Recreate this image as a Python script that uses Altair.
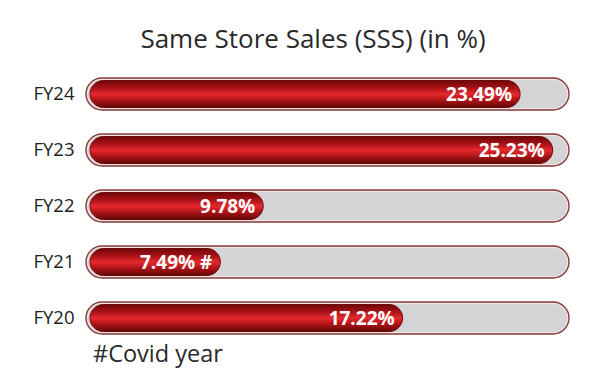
import altair as alt
import pandas as pd

years = ["FY24", "FY23", "FY22", "FY21", "FY20"]
sss = [23.49, 25.23, 9.78, 7.49, 17.22]
labels = ["23.49%", "25.23%", "9.78%", "7.49% #", "17.22%"]
track_max = 26.1
title_text = "Same Store Sales (SSS) (in %)"
footnote = "#Covid year"

df = pd.DataFrame({"year": years, "value": sss, "label": labels, "track": [track_max] * len(years)})

FONT = "Open Sans"
W, H = 489, 280

y_enc = alt.Y("year:N", sort=years,
              scale=alt.Scale(paddingInner=0, paddingOuter=0),
              axis=alt.Axis(title=None, domain=False, ticks=False, grid=False, labelPadding=6,
                            labelFont=FONT, labelFontSize=18.5, labelColor="#222222"))
y_plain = alt.Y("year:N", sort=years)
x_scale = alt.Scale(domain=[0, track_max], nice=False, zero=True)

base = alt.Chart(df)

track = base.mark_bar(size=32, cornerRadius=16, fill="#d4d4d6", stroke="#8a3a37",
                      strokeWidth=1.4, xOffset=6).encode(
    y=y_enc,
    x=alt.X("zero:Q", scale=x_scale, axis=None),
    x2="track:Q",
).transform_calculate(zero="0")

track_inner = base.mark_bar(size=29, cornerRadius=14.5, fill="transparent", stroke="#f6e4e2",
                            strokeWidth=1, xOffset=7.5, x2Offset=-1.5).encode(
    y=y_plain,
    x=alt.X("zero:Q", scale=x_scale, axis=None),
    x2="track:Q",
).transform_calculate(zero="0")

red_grad = alt.Gradient(
    gradient="linear",
    stops=[
        alt.GradientStop(color="#6a0707", offset=0),
        alt.GradientStop(color="#b01418", offset=0.3),
        alt.GradientStop(color="#e52a2e", offset=0.5),
        alt.GradientStop(color="#b01418", offset=0.72),
        alt.GradientStop(color="#620606", offset=1),
    ],
    x1=0, x2=0, y1=0, y2=1,
)

bars = base.mark_bar(size=27, cornerRadius=13.5, color=red_grad, stroke="#6e0a0a",
                     strokeWidth=1, xOffset=10).encode(
    y=y_plain,
    x=alt.X("zero:Q", scale=x_scale, axis=None),
    x2="value:Q",
).transform_calculate(zero="0")

text = base.mark_text(align="right", baseline="middle", dx=-8, dy=1, color="white",
                      font=FONT, fontWeight="bold", fontSize=19).encode(
    y=y_plain,
    x=alt.X("value:Q", scale=x_scale, axis=None),
    text="label:N",
)

title = alt.Chart(pd.DataFrame({"t": [title_text]})).mark_text(
    align="center", baseline="alphabetic", font=FONT, fontSize=26, color="#2a2a2a"
).encode(x=alt.value(233), y=alt.value(-18), text="t:N")

foot = alt.Chart(pd.DataFrame({"t": [footnote]})).mark_text(
    align="left", baseline="middle", font=FONT, fontSize=23.5, color="#2a2a2a"
).encode(x=alt.value(13), y=alt.value(289), text="t:N")

chart = alt.layer(track, track_inner, bars, text, title, foot).properties(
    width=W, height=H,
    background="white",
    autosize=alt.AutoSizeParams(type="none"),
    padding={"left": 72, "top": 58, "right": 23, "bottom": 27},
).configure_view(stroke=None, strokeWidth=0).configure_axis(grid=False, domain=False)

chart.save("out.html", embed_options={"renderer": "svg", "actions": False})
